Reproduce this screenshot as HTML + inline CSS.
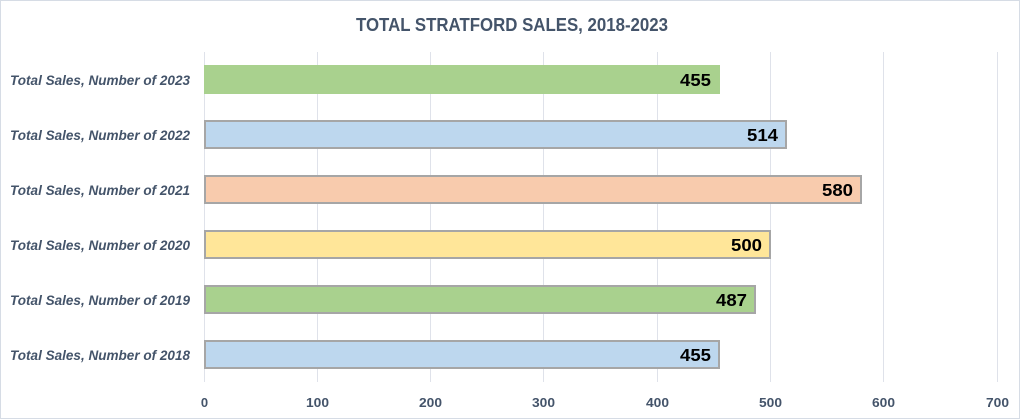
<!DOCTYPE html>
<html><head><meta charset="utf-8"><style>
html,body{margin:0;padding:0;background:#fff;width:1024px;height:420px;overflow:hidden}
svg{display:block}
</style></head><body>
<svg width="1024" height="420" viewBox="0 0 1024 420" xmlns="http://www.w3.org/2000/svg" font-family="'Liberation Sans', sans-serif">
<rect x="0.5" y="0.5" width="1019" height="418" fill="#fff" stroke="#d6dce5" stroke-width="1"/>
<text x="512" y="31" text-anchor="middle" font-size="18.5" font-weight="bold" fill="#44546a" textLength="312" lengthAdjust="spacingAndGlyphs">TOTAL STRATFORD SALES, 2018-2023</text>
<g stroke="#dfe2ea" stroke-width="1">
<line x1="204.5" y1="52" x2="204.5" y2="382"/>
<line x1="317.5" y1="52" x2="317.5" y2="382"/>
<line x1="430.5" y1="52" x2="430.5" y2="382"/>
<line x1="543.5" y1="52" x2="543.5" y2="382"/>
<line x1="657.5" y1="52" x2="657.5" y2="382"/>
<line x1="770.5" y1="52" x2="770.5" y2="382"/>
<line x1="883.5" y1="52" x2="883.5" y2="382"/>
<line x1="997.5" y1="52" x2="997.5" y2="382"/>
</g>
<!-- bars -->
<rect x="204" y="65" width="516" height="29" fill="#a9d18e"/>
<rect x="205" y="121" width="581" height="27" fill="#bdd7ee" stroke="#a6a6a6" stroke-width="2"/>
<rect x="205" y="176" width="656" height="27" fill="#f8cbad" stroke="#a6a6a6" stroke-width="2"/>
<rect x="205" y="231" width="565" height="27" fill="#ffe699" stroke="#a6a6a6" stroke-width="2"/>
<rect x="205" y="286" width="550" height="27" fill="#a9d18e" stroke="#a6a6a6" stroke-width="2"/>
<rect x="205" y="341" width="514" height="27" fill="#bdd7ee" stroke="#a6a6a6" stroke-width="2"/>
<!-- value labels -->
<g font-size="17.5" font-weight="bold" fill="#000" text-anchor="end">
<text x="711" y="86" textLength="31" lengthAdjust="spacingAndGlyphs">455</text>
<text x="778" y="141" textLength="31" lengthAdjust="spacingAndGlyphs">514</text>
<text x="853" y="196" textLength="31" lengthAdjust="spacingAndGlyphs">580</text>
<text x="762" y="251" textLength="31" lengthAdjust="spacingAndGlyphs">500</text>
<text x="747" y="306" textLength="31" lengthAdjust="spacingAndGlyphs">487</text>
<text x="711" y="361" textLength="31" lengthAdjust="spacingAndGlyphs">455</text>
</g>
<!-- category labels -->
<g font-size="14" font-weight="bold" font-style="italic" fill="#44546a" text-anchor="end">
<text x="190" y="85" textLength="180" lengthAdjust="spacingAndGlyphs">Total Sales, Number of 2023</text>
<text x="190" y="140" textLength="180" lengthAdjust="spacingAndGlyphs">Total Sales, Number of 2022</text>
<text x="190" y="195" textLength="180" lengthAdjust="spacingAndGlyphs">Total Sales, Number of 2021</text>
<text x="190" y="250" textLength="180" lengthAdjust="spacingAndGlyphs">Total Sales, Number of 2020</text>
<text x="190" y="305" textLength="180" lengthAdjust="spacingAndGlyphs">Total Sales, Number of 2019</text>
<text x="190" y="360" textLength="180" lengthAdjust="spacingAndGlyphs">Total Sales, Number of 2018</text>
</g>
<!-- tick labels -->
<g font-size="13" font-weight="bold" fill="#44546a" text-anchor="middle">
<text x="204.5" y="407">0</text>
<text x="317.5" y="407" textLength="23" lengthAdjust="spacingAndGlyphs">100</text>
<text x="430.5" y="407" textLength="23" lengthAdjust="spacingAndGlyphs">200</text>
<text x="543.5" y="407" textLength="23" lengthAdjust="spacingAndGlyphs">300</text>
<text x="657.5" y="407" textLength="23" lengthAdjust="spacingAndGlyphs">400</text>
<text x="770.5" y="407" textLength="23" lengthAdjust="spacingAndGlyphs">500</text>
<text x="883.5" y="407" textLength="23" lengthAdjust="spacingAndGlyphs">600</text>
<text x="997.5" y="407" textLength="23" lengthAdjust="spacingAndGlyphs">700</text>
</g>
</svg>
</body></html>
